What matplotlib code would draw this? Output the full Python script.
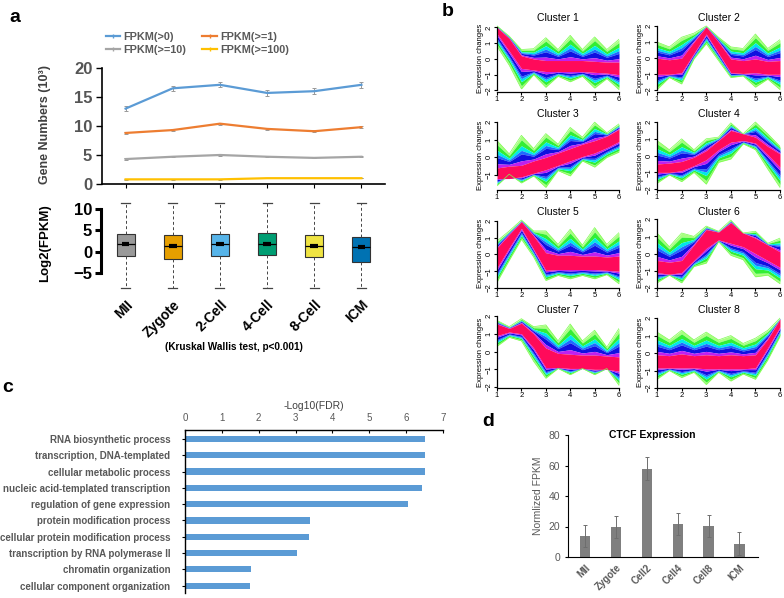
import numpy as np
import matplotlib.pyplot as plt

plt.rcParams['font.family'] = ['Liberation Sans', 'DejaVu Sans']

# ---- panel a: gene numbers ----
stages = ['MII', 'Zygote', '2-Cell', '4-Cell', '8-Cell', 'ICM']
fpkm_gt0 = [13.0, 16.5, 17.1, 15.7, 16.0, 17.1]
fpkm_gt0_err = [0.5, 0.45, 0.45, 0.5, 0.5, 0.55]
fpkm_ge1 = [8.8, 9.3, 10.4, 9.5, 9.1, 9.8]
fpkm_ge1_err = [0.15, 0.15, 0.15, 0.15, 0.15, 0.15]
fpkm_ge10 = [4.3, 4.7, 5.0, 4.7, 4.5, 4.7]
fpkm_ge10_err = [0.1, 0.1, 0.1, 0.1, 0.1, 0.1]
fpkm_ge100 = [0.8, 0.8, 0.8, 1.0, 1.0, 1.0]
fpkm_ge100_err = [0.05, 0.05, 0.05, 0.05, 0.05, 0.05]

# ---- panel a: log2(FPKM) boxes ----
box_q3 = [4.1, 4.0, 4.1, 4.3, 4.0, 3.5]
box_med = [1.8, 1.3, 1.8, 1.8, 1.4, 1.1]
box_q1 = [-1.0, -1.7, -1.0, -0.9, -1.2, -2.5]
box_whishi = [11.4, 11.4, 11.4, 11.4, 11.4, 11.4]
box_whislo = [-8.5, -8.5, -8.5, -8.5, -8.5, -8.5]
box_colors = ['#999999', '#E69F00', '#56B4E9', '#009E73', '#F0E442', '#0072B2']

# ---- panel b: cluster envelopes at 11 sample positions ----
cluster_x = [1, 1.5, 2, 2.5, 3, 3.5, 4, 4.5, 5, 5.5, 6]
outer_hi = [
    [2.1, 1.45, 0.6, 0.65, 1.35, 0.6, 1.5, 0.6, 1.4, 0.6, 1.25],
    [1.0, 0.7, 1.3, 1.55, 2.0, 1.3, 0.7, 0.6, 1.5, 0.6, 1.15],
    [0.95, 0.2, 1.25, 0.5, 1.35, 0.75, 1.7, 1.15, 2.0, 1.4, 1.9],
    [0.9, 0.35, 1.0, 0.35, 1.0, 1.1, 1.95, 1.3, 2.0, 1.3, 0.55],
    [0.8, 1.4, 2.05, 1.4, 1.4, 0.6, 1.5, 0.55, 1.6, 0.6, 1.3],
    [1.2, 0.4, 1.2, 1.0, 1.6, 1.3, 1.95, 1.2, 1.3, 0.6, 0.9],
    [1.75, 1.4, 1.85, 1.4, 1.5, 0.6, 1.55, 0.6, 1.2, 0.25, 1.3],
    [1.2, 0.75, 1.3, 0.75, 1.2, 0.75, 1.0, 0.55, 0.85, 1.3, 2.0],
]
outer_lo = [
    [0.8, -0.4, -1.9, -1.0, -1.8, -1.1, -1.45, -1.1, -1.85, -1.25, -1.95],
    [-1.95, -1.2, -1.6, -0.05, 0.9, -0.15, -1.2, -1.1, -1.8, -1.3, -1.95],
    [-1.6, -0.95, -1.45, -1.05, -1.7, -0.75, -1.05, -0.2, -0.55, 0.0, 0.3],
    [-1.65, -1.15, -1.55, -1.0, -1.7, -0.4, -0.2, 0.7, 0.35, -0.8, -1.9],
    [-1.65, -0.35, 0.9, -0.15, -1.55, -1.25, -1.45, -1.25, -1.45, -1.2, -1.75],
    [-1.7, -1.25, -1.7, -0.75, -0.55, 0.7, -0.1, -0.35, -1.35, -1.25, -1.75],
    [0.3, 0.8, 0.6, -0.55, -1.5, -0.95, -1.3, -0.95, -1.3, -0.95, -1.9],
    [-1.5, -1.0, -1.4, -1.1, -1.8, -1.1, -1.6, -1.2, -1.5, -0.4, 0.95],
]
core_hi = [
    [2.0, 1.3, 0.2, 0.0, -0.1, -0.1, -0.1, -0.1, -0.15, -0.2, -0.2],
    [0.0, -0.1, 0.0, 1.0, 1.95, 1.0, -0.05, -0.15, -0.05, -0.2, -0.15],
    [-0.6, -0.5, -0.45, -0.2, 0.0, 0.25, 0.5, 0.75, 0.95, 1.2, 1.6],
    [-0.5, -0.45, -0.35, -0.1, 0.3, 0.9, 1.5, 1.3, 1.1, 0.55, 0.1],
    [0.4, 1.2, 1.95, 1.1, 0.1, -0.05, -0.05, -0.1, -0.1, -0.15, -0.1],
    [-0.4, -0.5, -0.4, 0.5, 1.4, 1.25, 1.8, 1.2, 0.9, 0.5, 0.1],
    [1.55, 1.3, 1.6, 1.0, 0.2, -0.1, -0.15, -0.2, -0.2, -0.25, -0.3],
    [-0.1, -0.15, -0.05, -0.15, -0.1, -0.15, -0.1, -0.15, -0.1, 0.8, 1.95],
]
core_lo = [
    [1.6, 0.5, -0.6, -0.7, -0.8, -0.8, -0.8, -0.8, -0.85, -0.9, -1.0],
    [-1.0, -1.0, -0.9, 0.3, 1.5, 0.3, -0.9, -0.95, -0.9, -1.0, -1.0],
    [-1.2, -1.2, -1.1, -0.9, -0.7, -0.45, -0.2, 0.05, 0.25, 0.55, 0.9],
    [-1.0, -1.0, -0.9, -0.6, -0.25, 0.35, 0.8, 0.9, 0.75, 0.05, -0.7],
    [-0.8, 0.4, 1.55, 0.3, -0.95, -0.9, -0.9, -0.9, -0.9, -0.95, -1.0],
    [-1.1, -1.2, -1.1, -0.4, 0.3, 0.8, 0.6, 0.4, 0.0, -0.4, -0.8],
    [0.9, 1.1, 1.0, 0.2, -0.9, -0.9, -0.95, -0.95, -1.0, -1.0, -1.1],
    [-0.85, -0.85, -0.85, -0.85, -0.9, -0.9, -0.9, -0.9, -0.85, 0.3, 1.5],
]

# ---- panel c: GO terms ----
go_terms = ['RNA biosynthetic process', 'transcription, DNA-templated',
            'cellular metabolic process', 'nucleic acid-templated transcription',
            'regulation of gene expression', 'protein modification process',
            'cellular protein modification process', 'transcription by RNA polymerase II',
            'chromatin organization', 'cellular component organization']
go_logfdr = [6.52, 6.52, 6.50, 6.43, 6.04, 3.38, 3.37, 3.05, 1.78, 1.77]

# ---- panel d: CTCF ----
ctcf_stages = ['MII', 'Zygote', 'Cell2', 'Cell4', 'Cell8', 'ICM']
ctcf_fpkm = [13.5, 19.8, 57.8, 21.5, 20.3, 8.8]
ctcf_err = [7.2, 7.3, 7.5, 7.3, 7.5, 7.3]

W, H = 784, 598
fig = plt.figure(figsize=(W / 100, H / 100), dpi=100)


def box(x0, y_top, x1, y_bot):
    return [x0 / W, 1 - y_bot / H, (x1 - x0) / W, (y_bot - y_top) / H]


def label(x, y, s, **kw):
    fig.text(x / W, 1 - y / H, s, **kw)


# ================= panel a, line chart =================
ax = fig.add_axes(box(102, 68, 385, 184))
xs = np.arange(len(stages))
series = [('FPKM(>0)', fpkm_gt0, fpkm_gt0_err, '#5B9BD5'),
          ('FPKM(>=1)', fpkm_ge1, fpkm_ge1_err, '#ED7D31'),
          ('FPKM(>=10)', fpkm_ge10, fpkm_ge10_err, '#A5A5A5'),
          ('FPKM(>=100)', fpkm_ge100, fpkm_ge100_err, '#FFC000')]
handles = {}
for name, vals, err, col in series:
    ax.errorbar(xs, vals, yerr=err, color=col, lw=1.6, ecolor='#999999',
                elinewidth=0.7, capsize=1.5, capthick=0.7)
    handles[name] = ax.plot([], [], color=col, lw=1.6, marker='|', ms=3)[0]
ax.set_xlim(-0.5, 5.5)
ax.set_ylim(0, 20)
ax.set_yticks([0, 5, 10, 15, 20])
ax.set_xticks(xs)
ax.set_xticklabels([])
ax.tick_params(axis='x', length=3, width=0.8)
ax.tick_params(axis='y', length=4, width=1.0, labelsize=12, labelcolor='#555555', pad=3)
for t in ax.get_yticklabels():
    t.set_fontweight('bold')
ax.spines['top'].set_visible(False)
ax.spines['right'].set_visible(False)
ax.spines['left'].set_linewidth(1.2)
ax.spines['bottom'].set_linewidth(1.2)
label(45, 125, 'Gene Numbers (10\u00b3)', rotation=90, ha='center', va='center',
      fontsize=9, fontweight='bold', color='#404040')
order = ['FPKM(>0)', 'FPKM(>=10)', 'FPKM(>=1)', 'FPKM(>=100)']
fig.legend([handles[k] for k in order], order, ncol=2, frameon=False,
           loc='upper left', bbox_to_anchor=(106 / W, 1 - 32 / H),
           prop={'size': 7.8, 'weight': 'bold'}, labelcolor='#595959',
           handlelength=1.3, handletextpad=0.3, columnspacing=1.5, labelspacing=0.3,
           borderaxespad=0, borderpad=0)

# ================= panel a, boxes =================
bx = fig.add_axes(box(102, 200.5, 385, 292))
stats = []
for i in range(len(stages)):
    stats.append({'med': box_med[i], 'q1': box_q1[i], 'q3': box_q3[i],
                  'whislo': box_whislo[i], 'whishi': box_whishi[i], 'fliers': []})
bp = bx.bxp(stats, positions=xs, widths=0.38, patch_artist=True, showfliers=False,
            boxprops={'linewidth': 0.8, 'edgecolor': '#333333'},
            whiskerprops={'linestyle': (0, (3, 2.5)), 'linewidth': 0.7, 'color': '#444444'},
            capprops={'linewidth': 0.9, 'color': '#444444'},
            medianprops={'linewidth': 0.9, 'color': 'black'})
for patch, col in zip(bp['boxes'], box_colors):
    patch.set_facecolor(col)
bx.hlines(box_med, xs - 0.08, xs + 0.08, color='black', lw=3)
bx.set_xlim(-0.5, 5.5)
bx.set_ylim(-9.5, 12)
bx.set_yticks([-5, 0, 5, 10])
bx.set_yticklabels(['\u22125', '0', '5', '10'])
bx.spines['left'].set_bounds(-5, 10)
bx.spines['left'].set_linewidth(2.2)
bx.spines['left'].set_position(('outward', 1))
for s in ['top', 'right', 'bottom']:
    bx.spines[s].set_visible(False)
bx.tick_params(axis='y', length=4, width=2.2, labelsize=12, pad=2)
bx.tick_params(axis='x', length=0, labelsize=10, pad=4)
bx.set_xticks(xs)
bx.set_xticklabels(stages, rotation=45, ha='right', rotation_mode='anchor', fontweight='bold')
for t in bx.get_yticklabels():
    t.set_fontweight('bold')
label(45, 243, 'Log2(FPKM)', rotation=90, ha='center', va='center',
      fontsize=9.5, fontweight='bold')
label(234, 347, '(Kruskal Wallis test, p<0.001)', ha='center', va='center',
      fontsize=7.2, fontweight='bold')

# ================= panel b, clusters =================
layer_fracs = [0, 0.15, 0.35, 0.5, 0.62, 0.85, 1.0]
layer_colors = ['#A8FF80', '#33EE33', '#00E8E8', '#1E6BFF', '#1010E0', '#C020F0']
col_x = [(497, 619), (657, 780)]
row_y = [(24, 92), (120, 190), (218, 288), (316, 388)]
for c in range(8):
    r, k = divmod(c, 2)
    (x0, x1), (y0, y1) = col_x[k], row_y[r]
    cx = fig.add_axes(box(x0, y0, x1, y1))
    uo = np.array(outer_hi[c])
    lo = np.array(outer_lo[c])
    uc = np.array(core_hi[c])
    lc = np.array(core_lo[c])
    for j in range(len(layer_fracs) - 1):
        fa, fb = layer_fracs[j], layer_fracs[j + 1]
        cx.fill_between(cluster_x, uo + (uc - uo) * fa, uo + (uc - uo) * fb,
                        color=layer_colors[j], lw=0)
        cx.fill_between(cluster_x, lo + (lc - lo) * fa, lo + (lc - lo) * fb,
                        color=layer_colors[j], lw=0)
    cx.fill_between(cluster_x, lc, uc, color='#FF0A5A', lw=0)
    cx.plot(cluster_x, uo, color='#7CFC50', lw=0.5)
    cx.plot(cluster_x, lo, color='#7CFC50', lw=0.5)
    ymin, ymax = lo.min() - 0.15, uo.max() + 0.12
    cx.set_xlim(1, 6)
    cx.set_ylim(ymin, ymax)
    yt = [v for v in range(-2, 3) if ymin - 0.1 <= v <= ymax + 0.05]
    cx.set_yticks(yt)
    cx.set_yticklabels(['\u2212%d' % -v if v < 0 else str(v) for v in yt],
                       rotation=90, va='center')
    cx.set_xticks(range(1, 7))
    cx.spines['left'].set_bounds(yt[0], yt[-1])
    cx.spines['bottom'].set_bounds(1, 6)
    for s in ['top', 'right']:
        cx.spines[s].set_visible(False)
    for s in ['left', 'bottom']:
        cx.spines[s].set_linewidth(0.9)
    cx.tick_params(length=2, width=0.8, labelsize=5.5, pad=1)
    cx.set_ylabel('Expression changes', fontsize=5.5, labelpad=1)
    cx.set_title('Cluster %d' % (c + 1), fontsize=7.5, pad=2)

# ================= panel c =================
gx = fig.add_axes(box(185, 430, 443, 593))
gy = np.arange(len(go_terms))
gx.barh(gy, go_logfdr, height=0.38, color='#5B9BD5')
gx.set_xlim(0, 7)
gx.set_ylim(9.45, -0.55)
gx.xaxis.tick_top()
gx.xaxis.set_label_position('top')
gx.set_xticks(range(8))
gx.set_yticks(gy)
gx.set_yticklabels(go_terms, fontsize=7, fontweight='bold', color='#595959')
gx.set_xlabel('-Log10(FDR)', fontsize=7.5, color='#404040', labelpad=3)
gx.tick_params(axis='x', direction='in', length=2.5, width=0.8, labelsize=7,
               labelcolor='#595959', pad=5)
gx.tick_params(axis='y', length=2.5, width=0.8, pad=8)
gx.spines['right'].set_visible(False)
gx.spines['bottom'].set_visible(False)
gx.spines['top'].set_linewidth(1.0)
gx.spines['left'].set_linewidth(1.0)

# ================= panel d =================
dx = fig.add_axes(box(568, 435, 758, 557))
dpos = np.arange(len(ctcf_stages))
dx.bar(dpos, ctcf_fpkm, width=0.33, color='#7F7F7F', yerr=ctcf_err,
       error_kw={'ecolor': '#6E6E6E', 'elinewidth': 0.7, 'capsize': 1.2, 'capthick': 0.7})
dx.set_xlim(-0.55, 5.6)
dx.set_ylim(0, 80)
dx.set_yticks([0, 20, 40, 60, 80])
dx.set_xticks(dpos)
dx.set_xticklabels(ctcf_stages, rotation=45, ha='right', rotation_mode='anchor',
                   fontweight='bold', color='#595959', fontsize=7)
dx.tick_params(axis='y', length=2.5, width=0.8, labelsize=7.5, labelcolor='#595959', pad=3)
dx.tick_params(axis='x', length=0, pad=4)
dx.spines['top'].set_visible(False)
dx.spines['right'].set_visible(False)
dx.set_ylabel('Normlized FPKM', fontsize=7.5, color='#595959', labelpad=4)
label(652, 435, 'CTCF Expression', ha='center', va='center', fontsize=7.5, fontweight='bold')

# panel letters
label(15, 17, 'a', fontsize=14, fontweight='bold', ha='center', va='center')
label(448, 11, 'b', fontsize=14, fontweight='bold', ha='center', va='center')
label(8, 388, 'c', fontsize=14, fontweight='bold', ha='center', va='center')
label(488, 421, 'd', fontsize=14, fontweight='bold', ha='center', va='center')

fig.savefig('out.png', dpi=100)
